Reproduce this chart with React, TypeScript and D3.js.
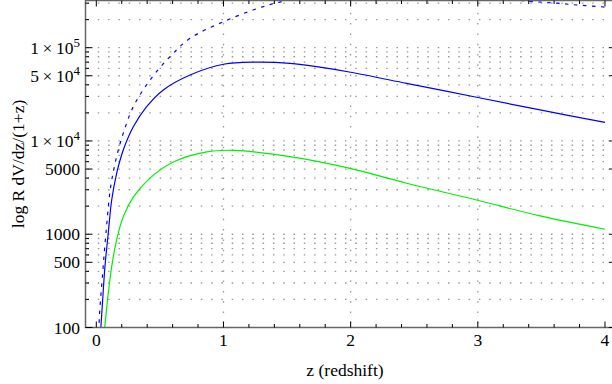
import React from 'react';
import * as d3 from 'd3';

const W = 612;
const H = 384;

// Blue solid curve
const solidZ = [0.03, 0.05, 0.068, 0.094, 0.121, 0.16, 0.212, 0.291, 0.396, 0.527, 0.737, 1.0, 1.25, 1.523, 1.785, 2.0, 2.44, 2.99, 3.49, 4.0];
const solidV = [75, 198, 450, 1030, 2330, 4500, 8000, 14200, 23300, 35200, 50900, 66400, 70000, 68000, 61000, 54500, 41500, 29400, 21500, 15800];

// Green curve
const greenZ = [0.06, 0.068, 0.094, 0.121, 0.16, 0.212, 0.291, 0.422, 0.606, 0.868, 1.077, 1.523, 1.995, 2.44, 2.99, 3.49, 4.0];
const greenV = [85, 107, 233, 450, 870, 1545, 2500, 4000, 5950, 7650, 7940, 6800, 5090, 3520, 2330, 1570, 1130];

// Blue dashed curve
const dashZ = [0.02, 0.024, 0.05, 0.076, 0.113, 0.16, 0.212, 0.291, 0.422, 0.579, 0.737, 1.0, 1.313, 1.523, 2.0, 2.5, 3.0, 3.383, 3.62, 3.78, 3.95, 4.0];
const dashV = [90, 131, 382, 1030, 3240, 6800, 12100, 23300, 45000, 80000, 126000, 190000, 276000, 325000, 390000, 400000, 360000, 316000, 300000, 287000, 276000, 272000];

const xMajor = [0, 1, 2, 3, 4];
const xGrid = [1, 2, 3];
const yLabelled = [100, 500, 1000, 5000, 1e4, 5e4, 1e5];

export default function App() {
  const left = 85.5, right = 615.8, top = 0.5, bottom = 327.5;
  const x = d3.scaleLinear().domain([-0.085, 4.085]).range([left, right]);
  const y = d3.scaleLog().domain([100, 320600]).range([bottom, top]);

  const mk = (zs: number[], vs: number[]) =>
    d3.line<number>().x((_, i) => x(zs[i])).y((_, i) => y(vs[i])).curve(d3.curveCatmullRom.alpha(0.5))(zs.map((_, i) => i)) || '';

  const yAll: number[] = [];
  for (let k = 2; k <= 5; k++) for (let m = 1; m <= 9; m++) {
    const v = m * Math.pow(10, k);
    if (v >= 100 && v <= 320600) yAll.push(v);
  }
  const xMinor: number[] = [];
  for (let i = 0; i <= 20; i++) { const v = i * 0.2; if (i % 5 !== 0) xMinor.push(v); }

  const font = "'Liberation Serif', 'Times New Roman', serif";
  const fs = 17.5;
  const gridStyle = { stroke: '#999', strokeWidth: 1.3, strokeDasharray: '1.5,8.8' };

  const label = (v: number) => {
    if (v < 1e4) return <tspan>{String(v)}</tspan>;
    const k = Math.floor(Math.log10(v) + 1e-9);
    const m = Math.round(v / Math.pow(10, k));
    return (
      <>
        <tspan>{`${m}\u2009\u00d7\u200910`}</tspan>
        <tspan dy={-7} fontSize={13}>{String(k)}</tspan>
      </>
    );
  };

  return (
    <svg width={W} height={H} style={{ position: 'absolute', left: 0, top: 0, background: '#fff' }} fontFamily={font}>
      <defs>
        <clipPath id="plot"><rect x={left} y={top} width={right - left} height={bottom - top} /></clipPath>
      </defs>
      <rect x={0} y={0} width={W} height={H} fill="#fff" />
      {/* grid */}
      {yAll.filter(v => v > 100).map(v => (
        <line key={'gy' + v} x1={left + 2} x2={right} y1={y(v)} y2={y(v)} {...gridStyle} />
      ))}
      {xGrid.map(v => (
        <line key={'gx' + v} x1={x(v)} x2={x(v)} y1={top + 2} y2={bottom} {...gridStyle} />
      ))}
      {/* curves */}
      <g clipPath="url(#plot)" fill="none">
        <path d={mk(dashZ, dashV)} stroke="#0000ff" strokeWidth={1.2} strokeDasharray="3.5,5.5" />
        <path d={mk(solidZ, solidV)} stroke="#0000ff" strokeWidth={1.2} />
        <path d={mk(greenZ, greenV)} stroke="#00ee00" strokeWidth={1.2} />
      </g>
      {/* frame */}
      <rect x={left} y={top} width={right - left} height={bottom - top} fill="none" stroke="#666" strokeWidth={1.5} />
      {/* x ticks */}
      {xMajor.map(v => (
        <g key={'xt' + v}>
          <line x1={x(v)} x2={x(v)} y1={bottom} y2={bottom - 6} stroke="#000" strokeWidth={1} />
          <line x1={x(v)} x2={x(v)} y1={top} y2={top + 6} stroke="#000" strokeWidth={1} />
          <text x={x(v)} y={346} textAnchor="middle" fontSize={fs}>{v}</text>
        </g>
      ))}
      {xMinor.map(v => (
        <g key={'xm' + v}>
          <line x1={x(v)} x2={x(v)} y1={bottom} y2={bottom - 3.5} stroke="#000" strokeWidth={1} />
          <line x1={x(v)} x2={x(v)} y1={top} y2={top + 3.5} stroke="#000" strokeWidth={1} />
        </g>
      ))}
      {/* y ticks */}
      {yAll.map(v => {
        const major = yLabelled.includes(v);
        const len = major ? 7 : 3.5;
        return (
          <g key={'yt' + v}>
            <line x1={left} x2={left + len} y1={y(v)} y2={y(v)} stroke="#000" strokeWidth={1} />
            <line x1={right} x2={right - len} y1={y(v)} y2={y(v)} stroke="#000" strokeWidth={1} />
          </g>
        );
      })}
      {yLabelled.map(v => (
        <text key={'yl' + v} x={80} y={y(v) + 6} textAnchor="end" fontSize={fs}>{label(v)}</text>
      ))}
      {/* axis labels */}
      <text x={345} y={376} textAnchor="middle" fontSize={fs}>z (redshift)</text>
      <text transform="translate(24,164) rotate(-90)" textAnchor="middle" fontSize={fs}>log R dV/dz/(1+z)</text>
    </svg>
  );
}
